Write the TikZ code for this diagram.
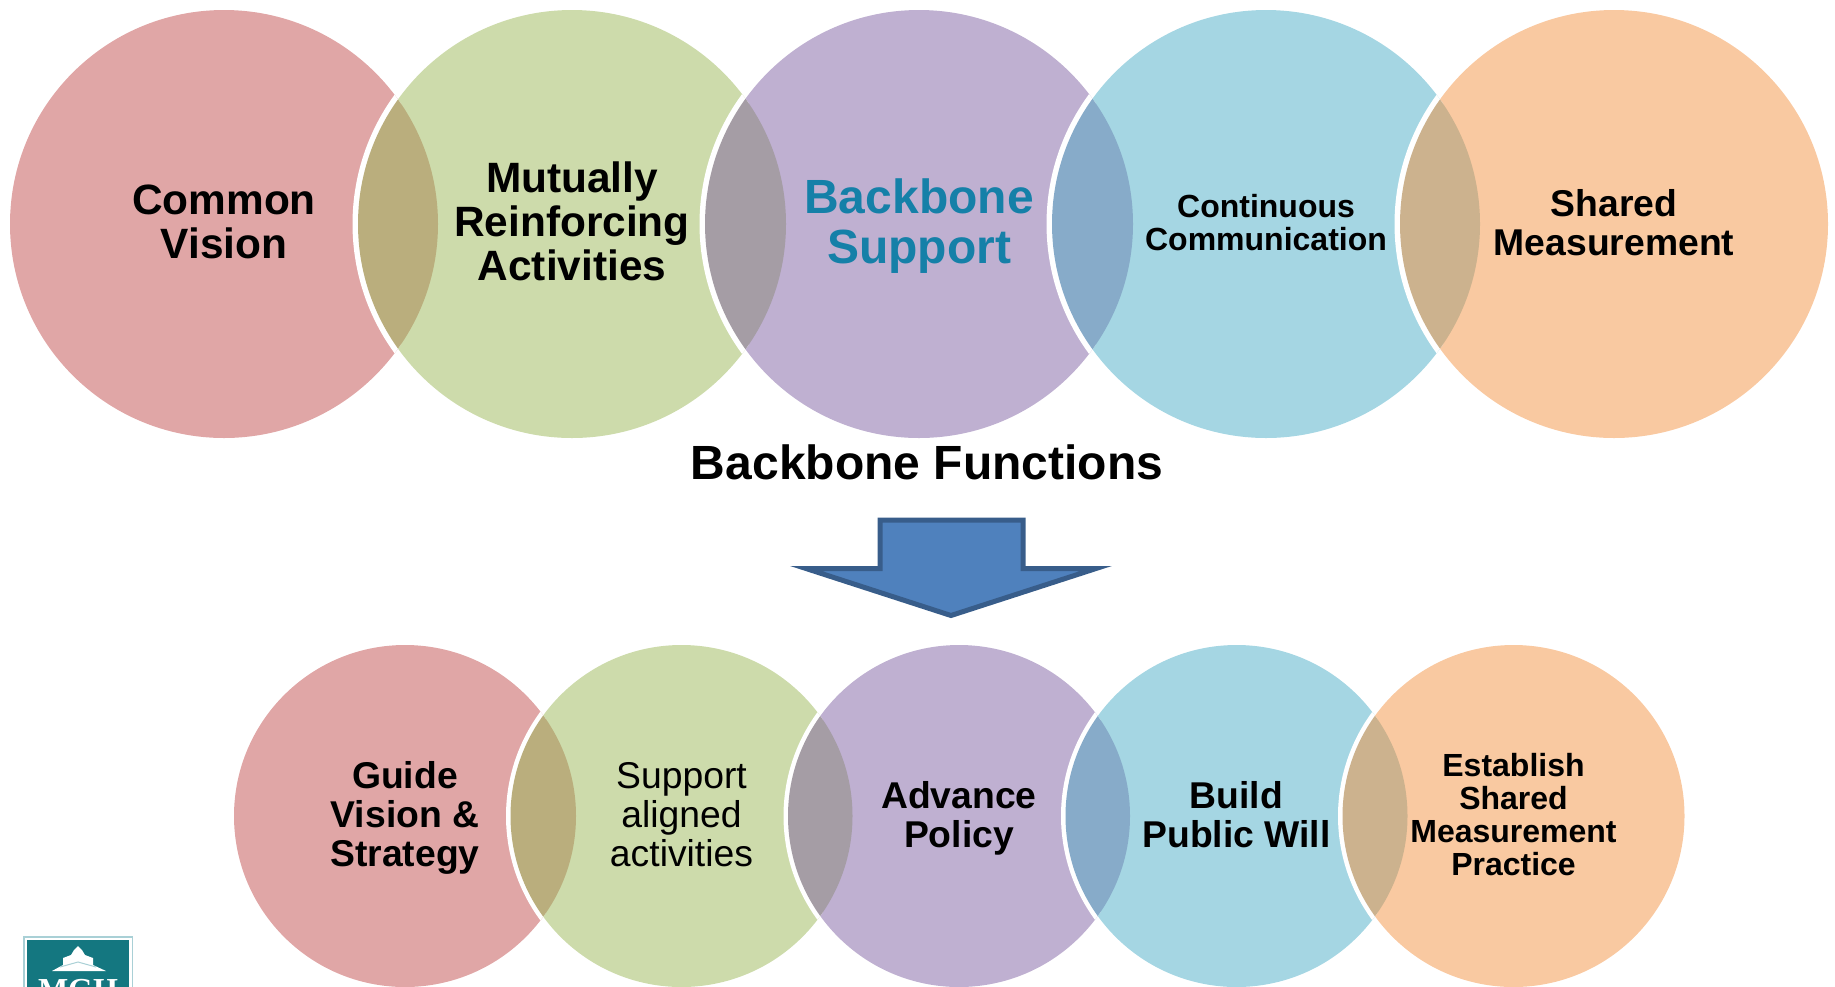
\documentclass[tikz,border=0pt]{standalone}
\usepackage{fontspec}
\setmainfont{Liberation Sans}
\newfontfamily\logofont{Liberation Serif}

\definecolor{redc}{HTML}{E0A6A6}
\definecolor{greenc}{HTML}{CDDBAB}
\definecolor{purplec}{HTML}{BFB0D1}
\definecolor{bluec}{HTML}{A5D6E3}
\definecolor{orangec}{HTML}{F9C9A1}
\definecolor{lensa}{HTML}{BAAE7D}
\definecolor{lensb}{HTML}{A59DA5}
\definecolor{lensc}{HTML}{87ABC9}
\definecolor{lensd}{HTML}{CCB28E}
\definecolor{backbone}{HTML}{1580A8}
\definecolor{logoteal}{HTML}{147780}
\definecolor{logoedge}{HTML}{A9D0D6}
\definecolor{arrowfill}{HTML}{4F81BD}
\definecolor{arrowedge}{HTML}{385D8A}

\tikzset{
  big/.style={circle, inner sep=0pt, minimum size=428pt},
  small/.style={circle, inner sep=0pt, minimum size=342pt},
  caption/.style={align=center, inner sep=0pt},
  bigtext/.style={caption, font=\bfseries\fontsize{42.4}{44}\selectfont},
  midtext/.style={caption, font=\bfseries\fontsize{37.3}{38.6}\selectfont},
  plaintext/.style={caption, font=\fontsize{37.3}{38.6}\selectfont},
  tighttext/.style={caption, font=\bfseries\fontsize{32}{33}\selectfont},
  blockarrow/.style={draw=arrowedge, fill=arrowfill, line width=5pt, miter limit=10},
}

\begin{document}
\begin{tikzpicture}[x=1pt, y=-1pt]
  \useasboundingbox (0,0) rectangle (1835,986);

  % top row
  \node[big, fill=redc] (t1) at (224,224) {};
  \node[big, fill=greenc] (t2) at (572,224) {};
  \node[big, fill=purplec] (t3) at (919,224) {};
  \node[big, fill=bluec] (t4) at (1266,224) {};
  \node[big, fill=orangec] (t5) at (1614,224) {};

  % bottom row
  \node[small, fill=redc] (b1) at (405,816) {};
  \node[small, fill=greenc] (b2) at (681.5,816) {};
  \node[small, fill=purplec] (b3) at (959,816) {};
  \node[small, fill=bluec] (b4) at (1236.5,816) {};
  \node[small, fill=orangec] (b5) at (1513.5,816) {};

  % overlaps
  \foreach \left/\right/\lens in {t1/t2/lensa, t2/t3/lensb, t3/t4/lensc, t4/t5/lensd} {
    \begin{scope}
      \clip (\left.center) circle[radius=214pt];
      \draw[white, line width=11pt] (\right.center) circle[radius=214pt];
      \fill[\lens] (\right.center) circle[radius=214pt];
    \end{scope}
  }
  \foreach \left/\right/\lens in {b1/b2/lensa, b2/b3/lensb, b3/b4/lensc, b4/b5/lensd} {
    \begin{scope}
      \clip (\left.center) circle[radius=171pt];
      \draw[white, line width=9pt] (\right.center) circle[radius=171pt];
      \fill[\lens] (\right.center) circle[radius=171pt];
    \end{scope}
  }

  % labels
  \node[bigtext] (vision) at (224,222) {Common\\Vision};
  \node[bigtext] (activities) at (572,221.7) {Mutually\\Reinforcing\\Activities};
  \node[caption, text=backbone, font=\bfseries\fontsize{48}{50}\selectfont] (support) at (919,226.3) {Backbone\\Support};
  \node[tighttext] (communication) at (1266,223) {Continuous\\Communication};
  \node[caption, font=\bfseries\fontsize{37.3}{39}\selectfont] (measurement) at (1614,223) {Shared\\Measurement};
  \node[midtext] (guide) at (405,818) {Guide\\Vision \&\\Strategy};
  \node[plaintext] (aligned) at (681.5,814.7) {Support\\aligned\\activities};
  \node[midtext] (policy) at (959,818.5) {Advance\\Policy};
  \node[midtext] (publicwill) at (1236.5,814.7) {Build\\Public Will};
  \node[tighttext] (practice) at (1513.5,814.7) {Establish\\Shared\\Measurement\\Practice};
  \node[caption, font=\bfseries\fontsize{48}{50}\selectfont] (title) at (927,462.7) {Backbone Functions};

  % down arrow
  \draw[blockarrow] (880,520) -- (1023,520) -- (1023,568.5) -- (1096,568.5) -- (951,615.5)
    -- (806,568.5) -- (880,568.5) -- cycle;

  % logo, cut by the page edge
  \fill[logoedge] (23,936) rectangle (133,990);
  \fill[white] (24.5,937.5) rectangle (131.5,990);
  \fill[logoteal] (27,940) rectangle (129,990);
  \fill[white] (78,946) -- (82,950) -- (85,955) -- (93,958) -- (93,965) -- (106,971) -- (52,971)
    -- (63,965) -- (63,958) -- (71,955) -- (74,950) -- cycle;
  \draw[logoedge, line width=1pt] (60,967) -- (78,962) -- (96,967);
  \node[anchor=base, text=white, inner sep=0pt, font=\logofont\bfseries\fontsize{32}{32}\selectfont] (logotext) at (78,1000) {MGH};
\end{tikzpicture}
\end{document}
